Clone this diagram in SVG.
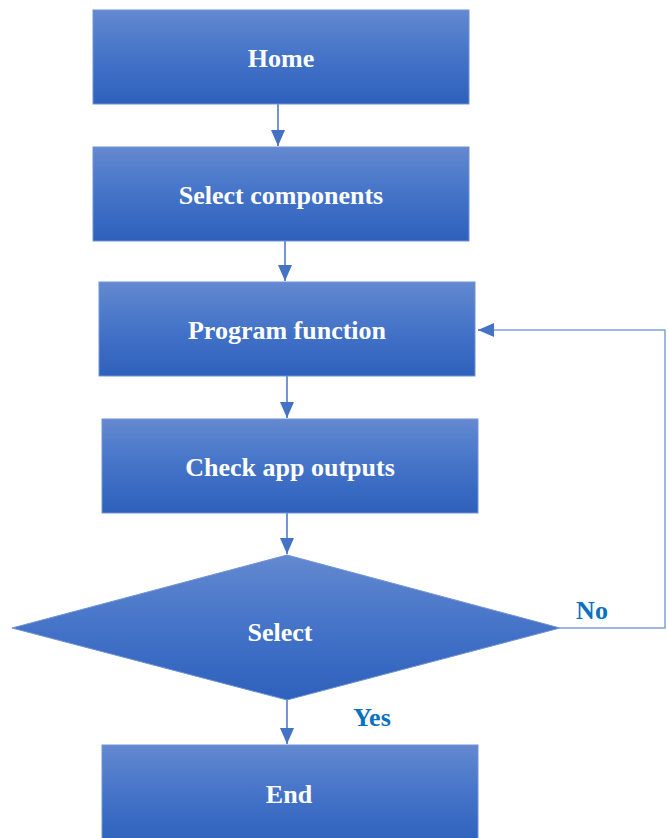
<svg xmlns="http://www.w3.org/2000/svg" width="668" height="838" viewBox="0 0 668 838">
<style>
.box{fill:url(#g);stroke:#7193d6;stroke-width:1}
.t{font-family:"Liberation Serif","Times New Roman",serif;font-weight:bold;font-size:26px;fill:#ffffff;text-anchor:middle}
.lbl{font-family:"Liberation Serif","Times New Roman",serif;font-weight:bold;font-size:26px;fill:#0a70c0;text-anchor:middle}
.c{stroke:#4472c4;stroke-width:1.5;fill:none}
.fb{stroke:#7fa1da;stroke-width:1.5;fill:none}
</style>
<defs>
<linearGradient id="g" x1="0" y1="0" x2="0" y2="1">
<stop offset="0" stop-color="#6389d0"/>
<stop offset="0.5" stop-color="#4473c8"/>
<stop offset="1" stop-color="#2e61bc"/>
</linearGradient>
<marker id="a" viewBox="0 0 10 10" refX="10" refY="5" markerWidth="10" markerHeight="10" markerUnits="userSpaceOnUse" orient="auto">
<path d="M0,0 L10,5 L0,10 z" fill="#4472c4"/>
</marker>
<marker id="ab" viewBox="0 0 16 14" refX="16" refY="7" markerWidth="16" markerHeight="14" markerUnits="userSpaceOnUse" orient="auto">
<path d="M0,0 L16,7 L0,14 z" fill="#4472c4"/>
</marker>
</defs>
<g id="connectors">
<line class="c" x1="278" y1="104" x2="278" y2="146" marker-end="url(#ab)"/>
<line class="c" x1="285" y1="241" x2="285" y2="281" marker-end="url(#ab)"/>
<line class="c" x1="287" y1="376" x2="287" y2="418" marker-end="url(#ab)"/>
<line class="c" x1="287" y1="513" x2="287" y2="554" marker-end="url(#ab)"/>
<line class="c" x1="287" y1="700" x2="287" y2="744" marker-end="url(#ab)"/>
<polyline class="fb" points="560,628 665,628 665,330 490,330"/>
<line class="c" x1="492" y1="330" x2="478" y2="330" marker-end="url(#ab)"/>
</g>
<g id="home"><rect class="box" x="93" y="10" width="376" height="94"/><text class="t" x="281" y="67">Home</text></g>
<g id="select-components"><rect class="box" x="93" y="147" width="376" height="94"/><text class="t" x="281" y="204">Select components</text></g>
<g id="program-function"><rect class="box" x="99" y="282" width="376" height="94"/><text class="t" x="287" y="339">Program function</text></g>
<g id="check-outputs"><rect class="box" x="102" y="419" width="376" height="94"/><text class="t" x="290" y="476">Check app outputs</text></g>
<g id="select"><polygon class="box" points="287,555 560,628 287,700 12,628"/><text class="t" x="280" y="641">Select</text></g>
<g id="end"><rect class="box" x="102" y="745" width="376" height="100"/><text class="t" x="289" y="803">End</text></g>
<g id="labels"><text class="lbl" x="592" y="619">No</text><text class="lbl" x="372" y="726">Yes</text></g>
</svg>
